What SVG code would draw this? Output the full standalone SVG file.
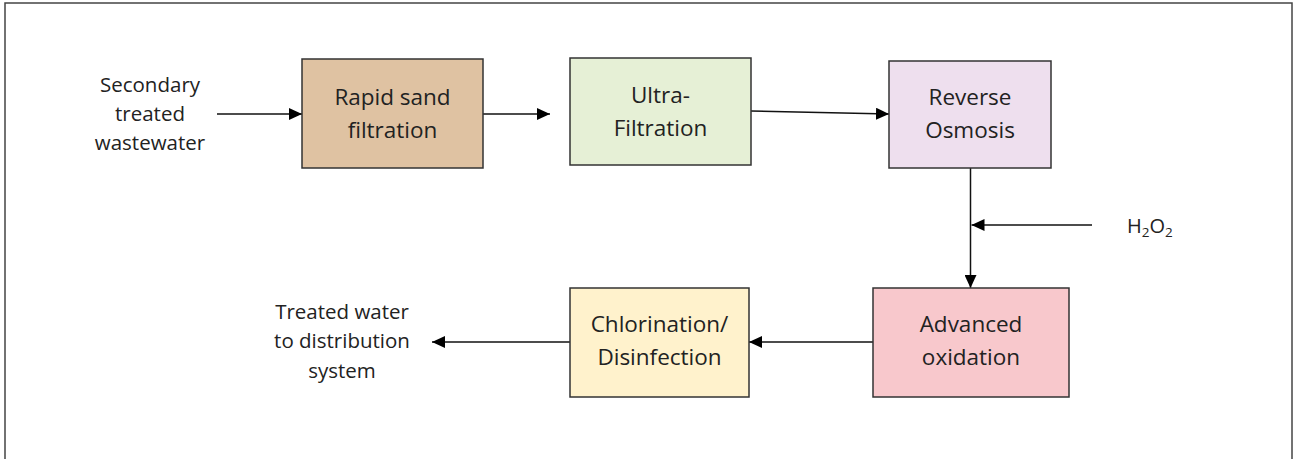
<svg xmlns="http://www.w3.org/2000/svg" width="1298" height="459" viewBox="0 0 1298 459">
  <defs>
    <style>
      .box { stroke: #333333; stroke-width: 1.5; }
      .lbl { font-family: "Open Sans", Lato, "Liberation Sans", sans-serif; font-size: 22.5px; fill: #222222; text-anchor: middle; }
      .side { font-family: "Open Sans", Lato, "Liberation Sans", sans-serif; font-size: 20.5px; fill: #222222; text-anchor: middle; }
      .wire { stroke: #111111; stroke-width: 1.5; fill: none; marker-end: url(#head); }
    </style>
    <marker id="head" viewBox="0 0 13 12" refX="13" refY="6" markerWidth="13" markerHeight="12" markerUnits="userSpaceOnUse" orient="auto">
      <path d="M0,0 L13,6 L0,12 Z" fill="#000000"/>
    </marker>
  </defs>

  <rect width="1298" height="459" fill="#ffffff"/>
  <!-- outer frame -->
  <rect x="5" y="3" width="1287" height="470" fill="none" stroke="#444444" stroke-width="1.5"/>

  <g id="connectors">
    <line class="wire" x1="217" y1="114" x2="302" y2="114"/>
    <line class="wire" x1="483" y1="114" x2="550" y2="114"/>
    <line class="wire" x1="751" y1="111" x2="889" y2="114"/>
    <line class="wire" x1="970.5" y1="168" x2="970.5" y2="288"/>
    <line class="wire" x1="1092" y1="225" x2="971.5" y2="225"/>
    <line class="wire" x1="873" y1="342" x2="749" y2="342"/>
    <line class="wire" x1="570" y1="342" x2="432" y2="342"/>
  </g>

  <g id="source">
    <text class="side" x="150" y="92">Secondary</text>
    <text class="side" x="150" y="121">treated</text>
    <text class="side" x="150" y="150">wastewater</text>
  </g>

  <g id="rapid-sand">
    <rect class="box" x="302" y="59" width="181" height="109" fill="#DFC2A2"/>
    <text class="lbl" x="392.5" y="105">Rapid sand</text>
    <text class="lbl" x="392.5" y="138">filtration</text>
  </g>

  <g id="ultra-filtration">
    <rect class="box" x="570" y="58" width="181" height="107" fill="#E6F0D6"/>
    <text class="lbl" x="660.5" y="103">Ultra-</text>
    <text class="lbl" x="660.5" y="136">Filtration</text>
  </g>

  <g id="reverse-osmosis">
    <rect class="box" x="889" y="61" width="162" height="107" fill="#EEDFEE"/>
    <text class="lbl" x="970" y="105">Reverse</text>
    <text class="lbl" x="970" y="138">Osmosis</text>
  </g>

  <g id="h2o2">
    <text x="1127" y="233" font-family="'Open Sans', Lato, 'Liberation Sans', sans-serif" font-size="20" fill="#222222">H<tspan font-size="13.5" dy="4">2</tspan><tspan dy="-4">O</tspan><tspan font-size="13.5" dy="4">2</tspan></text>
  </g>

  <g id="advanced-oxidation">
    <rect class="box" x="873" y="288" width="196" height="109" fill="#F8C8CC"/>
    <text class="lbl" x="971" y="332">Advanced</text>
    <text class="lbl" x="971" y="365">oxidation</text>
  </g>

  <g id="chlorination">
    <rect class="box" x="570" y="288" width="179" height="109" fill="#FFF2CC"/>
    <text class="lbl" x="659.5" y="332">Chlorination/</text>
    <text class="lbl" x="659.5" y="365">Disinfection</text>
  </g>

  <g id="output">
    <text class="side" x="342" y="319">Treated water</text>
    <text class="side" x="342" y="348">to distribution</text>
    <text class="side" x="342" y="378">system</text>
  </g>
</svg>
